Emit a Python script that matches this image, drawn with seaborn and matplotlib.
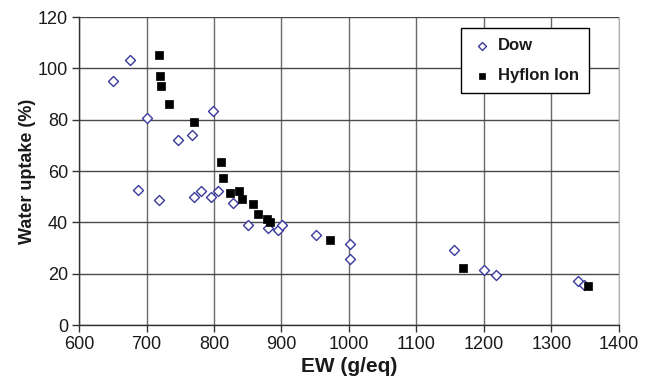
import matplotlib
matplotlib.use("Agg")
import matplotlib.pyplot as plt
import pandas as pd
import seaborn as sns

# Dow membranes
dow_ew = [651, 676, 700, 687, 718, 747, 767, 770, 781, 795, 799, 806, 828,
          851, 880, 895, 901, 951, 1001, 1001, 1155, 1200, 1218, 1340, 1349]
dow_uptake = [95, 103.4, 80.8, 52.5, 48.8, 72, 74, 50, 52.1, 50, 83.2, 52.1, 47.6,
              39.1, 37.9, 37.1, 39, 35, 31.4, 25.8, 29.2, 21.4, 19.5, 17.3, 15.6]

# Hyflon Ion membranes
hyflon_ew = [719, 720, 722, 733, 770, 811, 814, 824, 837, 841, 858, 865,
             878, 883, 972, 1169, 1354]
hyflon_uptake = [105.4, 97.1, 93.2, 86.2, 79, 63.4, 57.3, 51.3, 52.2, 49.2, 47.1, 43.2,
                 41.2, 40.1, 33.1, 22.3, 15.2]

x_ticks = list(range(600, 1401, 100))
y_ticks = list(range(0, 121, 20))

sns.set_style("white")
plt.rcParams['font.family'] = ['Liberation Sans', 'DejaVu Sans']
plt.rcParams['text.color'] = '#1a1a1a'
plt.rcParams['axes.labelcolor'] = '#1a1a1a'
plt.rcParams['xtick.labelcolor'] = '#1a1a1a'
plt.rcParams['ytick.labelcolor'] = '#1a1a1a'

fig = plt.figure(figsize=(6.48, 3.87), dpi=100)
ax = fig.add_axes([0.122, 0.160, 0.833, 0.796])

dow = pd.DataFrame({'ew': dow_ew, 'uptake': dow_uptake})
hyf = pd.DataFrame({'ew': hyflon_ew, 'uptake': hyflon_uptake})

sns.scatterplot(data=dow, x='ew', y='uptake', ax=ax, marker='D', s=26,
                facecolor='white', edgecolor='#3a3a9c', linewidth=1.0,
                label='Dow', zorder=3)
sns.scatterplot(data=hyf, x='ew', y='uptake', ax=ax, marker='s', s=32,
                color='black', edgecolor='black', linewidth=0.5,
                label='Hyflon Ion', zorder=4)

ax.set_xlim(600, 1400)
ax.set_ylim(0, 120)
ax.set_xticks(x_ticks)
ax.set_yticks(y_ticks)
ax.tick_params(axis='both', labelsize=13, direction='out', length=5,
               width=1, color='#333333', bottom=True, left=True, pad=3)

ax.xaxis.grid(True, color='#6a6a6a', linewidth=1.0)
ax.yaxis.grid(True, color='#4a4a4a', linewidth=1.0)
ax.set_axisbelow(True)

for side in ['left', 'bottom']:
    ax.spines[side].set_color('#333333')
    ax.spines[side].set_linewidth(1.0)
ax.spines['right'].set_color('#b0b0b0')
ax.spines['top'].set_visible(False)

ax.set_xlabel('EW (g/eq)', fontsize=15, fontweight='bold', labelpad=3)
ax.set_ylabel('Water uptake (%)', fontsize=13, fontweight='bold', labelpad=1.5)

leg = ax.legend(loc='upper right', bbox_to_anchor=(0.944, 0.964), frameon=True,
                fancybox=False, edgecolor='black', framealpha=1,
                markerscale=0.8, handletextpad=0.3, handlelength=1.3,
                borderpad=0.6, labelspacing=0.9, borderaxespad=0,
                prop={'size': 12, 'weight': 'bold'})
leg.get_frame().set_linewidth(1.0)

fig.savefig('out.png', dpi=100)
